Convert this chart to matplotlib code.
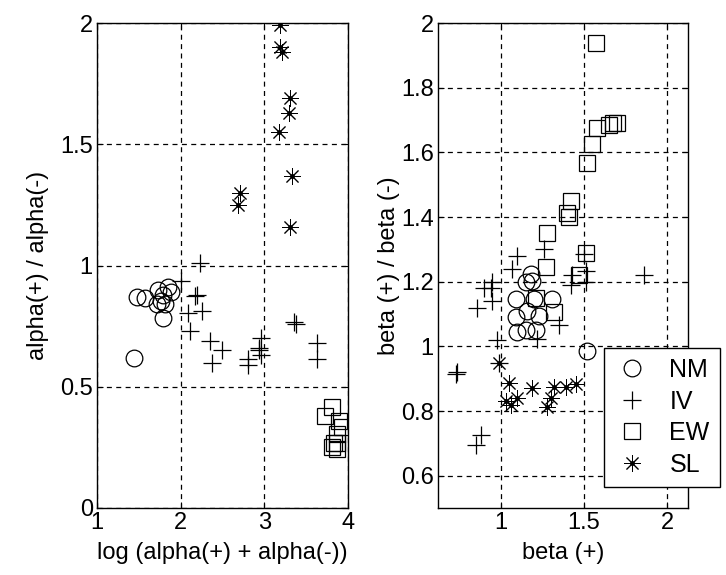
import matplotlib
matplotlib.use("Agg")
import matplotlib.pyplot as plt
from matplotlib.legend_handler import HandlerTuple

plt.rcParams['font.family'] = ['Liberation Sans', 'DejaVu Sans']

# ---- Left panel data ----
nm_l_x = [1.44, 1.48, 1.57, 1.73, 1.85, 1.79, 1.77, 1.81, 1.79, 1.89, 1.72]
nm_l_y = [0.62, 0.87, 0.865, 0.90, 0.91, 0.88, 0.855, 0.84, 0.785, 0.89, 0.84]
iv_l_x = [2.23, 2.00, 2.19, 2.25, 2.09, 2.11, 2.35, 2.50, 2.37, 2.80, 2.80,
          2.96, 2.94, 2.94, 2.96, 3.36, 3.38, 3.63, 3.63, 2.17]
iv_l_y = [1.01, 0.936, 0.88, 0.813, 0.806, 0.73, 0.69, 0.65, 0.60, 0.615, 0.59,
          0.70, 0.66, 0.65, 0.63, 0.765, 0.76, 0.68, 0.615, 0.875]
ew_l_x = [3.81, 3.73, 3.89, 3.93, 3.87, 3.83, 3.87, 3.81, 3.87]
ew_l_y = [0.416, 0.38, 0.36, 0.334, 0.307, 0.27, 0.245, 0.25, 0.27]
sl_l_x = [3.19, 3.19, 3.21, 3.31, 3.29, 3.17, 3.33, 2.71, 2.69, 3.31]
sl_l_y = [1.99, 1.90, 1.88, 1.69, 1.63, 1.55, 1.37, 1.30, 1.25, 1.16]

# ---- Right panel data ----
nm_r_x = [1.18, 1.15, 1.19, 1.09, 1.20, 1.31, 1.16, 1.23, 1.09, 1.15, 1.10, 1.21, 1.52]
nm_r_y = [1.224, 1.198, 1.203, 1.147, 1.147, 1.147, 1.11, 1.095, 1.09, 1.05, 1.044, 1.05, 0.986]
iv_r_x = [1.10, 1.26, 1.07, 0.95, 0.94, 0.90, 0.95, 0.86, 0.98, 0.99, 0.74, 0.88,
          0.855, 1.22, 1.35, 1.43, 1.42, 1.50, 1.51, 1.51, 1.86, 0.73]
iv_r_y = [1.28, 1.30, 1.24, 1.20, 1.18, 1.18, 1.14, 1.12, 1.02, 0.95, 0.92, 0.726,
          0.695, 1.024, 1.065, 1.22, 1.19, 1.285, 1.234, 1.198, 1.22, 0.915]
ew_r_x = [1.572, 1.58, 1.65, 1.675, 1.70, 1.55, 1.52, 1.42, 1.40, 1.41, 1.28, 1.51,
          1.27, 1.21, 1.32, 1.47]
ew_r_y = [1.938, 1.675, 1.685, 1.69, 1.69, 1.625, 1.567, 1.45, 1.413, 1.40, 1.352,
          1.29, 1.244, 1.15, 1.105, 1.22]
sl_r_x = [1.05, 1.19, 1.32, 1.39, 1.45, 1.10, 1.03, 1.064, 1.30, 1.28, 0.99]
sl_r_y = [0.888, 0.87, 0.875, 0.875, 0.882, 0.839, 0.832, 0.82, 0.839, 0.813, 0.947]

left_xticks = [1, 2, 3, 4]
left_yticks = [0, 0.5, 1, 1.5, 2]
left_yticklabels = ['0', '0.5', '1', '1.5', '2']
right_xticks = [1, 1.5, 2]
right_xticklabels = ['1', '1.5', '2']
right_yticks = [0.6, 0.8, 1.0, 1.2, 1.4, 1.6, 1.8, 2.0]
right_yticklabels = ['0.6', '0.8', '1', '1.2', '1.4', '1.6', '1.8', '2']
labels = ['NM', 'IV', 'EW', 'SL']

fig = plt.figure(figsize=(7.26, 5.75), dpi=100)
axL = fig.add_axes([97/726, 1-508/575, 251/726, 485/575])
axR = fig.add_axes([438/726, 1-508/575, 250/726, 485/575])

STAR = (8, 2, 0)


def draw(ax, nx, ny, ix, iy, ex, ey, sx, sy):
    h1, = ax.plot(nx, ny, 'o', ms=12, mfc='none', mec='black', mew=0.9, ls='none')
    h2, = ax.plot(ix, iy, '+', ms=13, mec='black', mew=0.9, ls='none')
    h3, = ax.plot(ex, ey, 's', ms=11, mfc='none', mec='black', mew=0.9, ls='none')
    h4, = ax.plot(sx, sy, marker=STAR, ms=12, mec='black', mew=0.7, ls='none')
    h5, = ax.plot(sx, sy, 'o', ms=2.5, mfc='black', mec='black', ls='none')
    return h1, h2, h3, (h4, h5)


def style(ax):
    ax.grid(True, color='black', linestyle=(0, (4, 3.5)), linewidth=0.9)
    ax.tick_params(direction='in', length=4, labelsize=17, top=True, right=True,
                   color='black', pad=3)
    for s in ax.spines.values():
        s.set_color('black')
        s.set_linewidth(1.0)


draw(axL, nm_l_x, nm_l_y, iv_l_x, iv_l_y, ew_l_x, ew_l_y, sl_l_x, sl_l_y)
axL.set_xlim(1, 4)
axL.set_ylim(0, 2)
axL.set_xticks(left_xticks)
axL.set_yticks(left_yticks)
axL.set_yticklabels(left_yticklabels)
style(axL)
axL.set_xlabel('log (alpha(+) + alpha(-))', fontsize=17, labelpad=6)
axL.set_ylabel('alpha(+) / alpha(-)', fontsize=17, labelpad=8)

handles = draw(axR, nm_r_x, nm_r_y, iv_r_x, iv_r_y, ew_r_x, ew_r_y, sl_r_x, sl_r_y)
axR.set_xlim(0.625, 2.125)
axR.set_ylim(0.5, 2.0)
axR.set_xticks(right_xticks)
axR.set_xticklabels(right_xticklabels)
axR.set_yticks(right_yticks)
axR.set_yticklabels(right_yticklabels)
style(axR)
axR.set_xlabel('beta (+)', fontsize=17, labelpad=6)
axR.set_ylabel('beta (+) / beta (-)', fontsize=17, labelpad=1)

leg = axR.legend(handles, labels, loc='center', bbox_to_anchor=(0.896, 0.187),
                 fontsize=18, frameon=True, fancybox=False, edgecolor='black',
                 framealpha=1, handler_map={tuple: HandlerTuple(ndivide=1)},
                 handlelength=1.4, handletextpad=0.8, labelspacing=0.3,
                 borderpad=0.4)
leg.get_frame().set_linewidth(1.0)

fig.savefig('out.png', dpi=100, facecolor='white')
